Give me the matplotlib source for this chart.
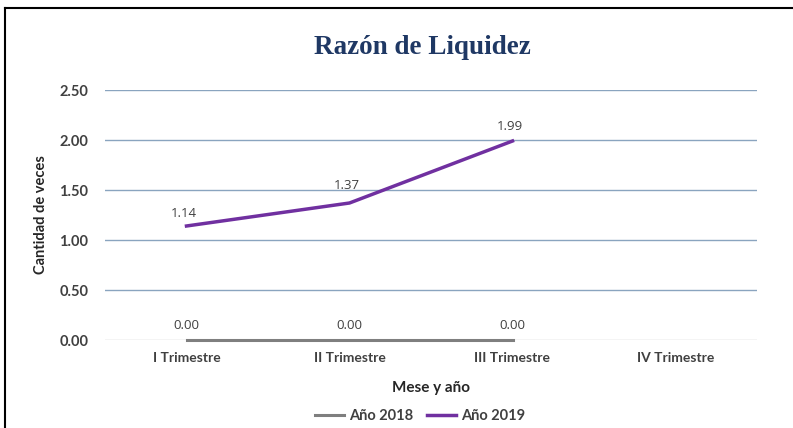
import numpy as np
import matplotlib
matplotlib.use("Agg")
import matplotlib.pyplot as plt
from matplotlib.lines import Line2D

categories = ["I Trimestre", "II Trimestre", "III Trimestre", "IV Trimestre"]
vals_2018 = [0.00, 0.00, 0.00]
vals_2019 = [1.14, 1.37, 1.99]
yticks = [0.0, 0.5, 1.0, 1.5, 2.0, 2.5]

plt.rcParams['font.family'] = ['Lato', 'DejaVu Sans']

fig = plt.figure(figsize=(7.93, 4.28), dpi=100)
ax = fig.add_axes([105/793, 88/428, 652/793, 250/428])

x = np.arange(len(categories))
x18 = x[:len(vals_2018)]
x19 = x[:len(vals_2019)]

for yv in yticks[1:]:
    ax.axhline(yv, color='#8aa4bf', lw=1.0, zorder=1)
ax.axhline(0, color='#c8c8c8', lw=1.0, zorder=1)

ax.plot(x18, vals_2018, color='#7f7f7f', lw=2.2, label='Año 2018', zorder=3, clip_on=False)
ax.plot(x19, vals_2019, color='#7030a0', lw=2.5, label='Año 2019', zorder=4, clip_on=False)

# label offsets (pt) as Excel placed them
for xi, v in zip(x18, vals_2018):
    ax.annotate(f"{v:.2f}", (xi, v), xytext=(0, 6), textcoords='offset points',
                ha='center', va='bottom', fontsize=9.5, color='#404040', family='Open Sans')
for xi, v, dy in zip(x19, vals_2019, [4, 8, 6]):
    ax.annotate(f"{v:.2f}", (xi, v), xytext=(-2, dy), textcoords='offset points',
                ha='center', va='bottom', fontsize=9.5, color='#404040', family='Open Sans')

ax.set_xlim(-0.5, len(categories) - 0.5)
ax.set_ylim(0, 2.5)
ax.set_yticks(yticks)
ax.set_yticklabels([f"{t:.2f}" for t in yticks], fontsize=10.5, fontweight='bold', color='#404040')
ax.set_xticks(x)
ax.set_xticklabels(categories, fontsize=10, fontweight='bold', color='#404040')
ax.tick_params(axis='both', length=0)
ax.tick_params(axis='y', pad=12)
ax.tick_params(axis='x', pad=9)
for s in ax.spines.values():
    s.set_visible(False)

ax.set_xlabel("Mese y año", fontsize=11, fontweight='bold', color='#262626', labelpad=12)
ax.set_ylabel("Cantidad de veces", fontsize=10.5, fontweight='bold', color='#262626', labelpad=8)

fig.text(422/793, 1 - 48/428, "Razón de Liquidez", ha='center', va='center',
         fontsize=19.5, fontweight='bold', color='#1f3864', family='Liberation Serif')

fig.legend(loc='center', bbox_to_anchor=(420/793, 1 - 416/428), ncol=2, frameon=False,
           handlelength=2.0, handletextpad=0.3, columnspacing=1.0,
           prop={'weight': 'bold', 'size': 10.5})
for t in fig.legends[0].get_texts():
    t.set_color('#404040')

# outer frame
fig.add_artist(Line2D([5/793, 1.0], [1 - 8/428, 1 - 8/428], transform=fig.transFigure, color='black', lw=1.5))
fig.add_artist(Line2D([5/793, 5/793], [0, 1 - 8/428], transform=fig.transFigure, color='black', lw=1.5))

fig.savefig("out.png", dpi=100)
